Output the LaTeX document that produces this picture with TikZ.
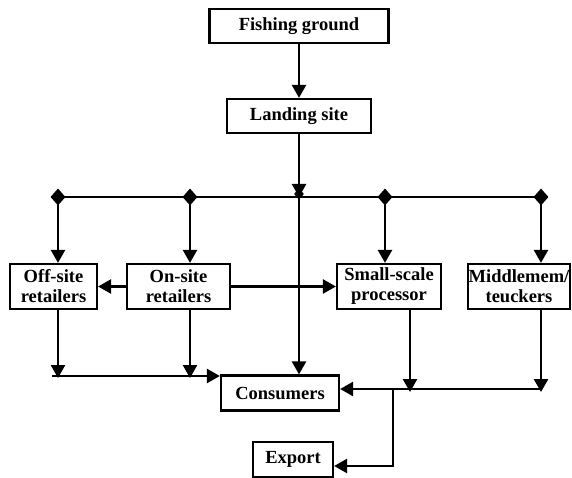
\documentclass[tikz,border=0pt]{standalone}
\usepackage{fontspec}
\setmainfont{Liberation Serif}
\usetikzlibrary{arrows.meta,shapes.geometric}
\begin{document}
\begin{tikzpicture}[x=1pt,y=-1pt,
  box/.style={draw,line width=2.2pt,inner sep=0pt,align=center,
    font=\fontsize{18.5}{20}\selectfont\bfseries},
  con/.style={line width=2.5pt,-{Triangle[length=13pt,width=14pt]}},
  ln/.style={line width=2.5pt},
  dia/.style={diamond,fill=black,inner sep=0pt,minimum width=15pt,minimum height=17pt}]
\useasboundingbox (0,0) rectangle (572,478);
% boxes
\node[box,minimum width=179pt,minimum height=34pt] (fg) at (299,26) {Fishing ground};
\node[box,minimum width=144pt,minimum height=34pt] (ls) at (299,116) {Landing site};
\node[box,minimum width=87pt,minimum height=45pt] (off) at (53.5,286.5) {Off-site\\retailers};
\node[box,minimum width=103pt,minimum height=45pt] (on) at (178.5,286.5) {On-site\\retailers};
\node[box,minimum width=104pt,minimum height=45pt] (ssp) at (389,286.5) {Small-scale\\processor};
\node[box,minimum width=102pt,minimum height=45pt] (mid) at (519,286.5) {Middlemem/\\teuckers};
\node[box,minimum width=118pt,minimum height=35pt] (cons) at (280,393) {Consumers};
\node[box,minimum width=80pt,minimum height=35pt] (exp) at (293,459.5) {Export};
% bus coordinates
\coordinate (j) at (299,197);
\coordinate (d1) at (58,197);
\coordinate (d2) at (190,197);
\coordinate (d3) at (385,197);
\coordinate (d4) at (541,197);
\coordinate (lb0) at (52,376);
\coordinate (lb1) at (58,376);
\coordinate (lb2) at (190,376);
\coordinate (rb1) at (410,389);
\coordinate (rb2) at (541,389);
\coordinate (br) at (393,389);
\coordinate (br2) at (393,466);
% connectors
\draw[con] (fg) -- (ls);
\draw[ln] (d1) -- (d4);
\draw[con] (ls) -- (j);
\draw[con] (d1) -- (d1 |- off.north);
\draw[con] (d2) -- (d2 |- on.north);
\draw[con] (d3) -- (d3 |- ssp.north);
\draw[con] (d4) -- (d4 |- mid.north);
\draw[con] (on.west) -- (off.east);
\draw[con] (on.east) -- (ssp.west);
\draw[con] (j) -- (j |- cons.north);
\draw[con] (lb1 |- off.south) -- ([yshift=-2pt]lb1);
\draw[con] (lb2 |- on.south) -- ([yshift=-2pt]lb2);
\draw[ln,-{Triangle[length=13pt,width=14pt]}] (lb0) -- (cons.north west |- lb0);
\draw[con] (rb1 |- ssp.south) -- ([yshift=-3pt]rb1);
\draw[con] (rb2 |- mid.south) -- ([yshift=-3pt]rb2);
\draw[con] (rb2) -- (cons.east |- rb2);
\draw[con] (br) -- (br2) -- (exp.east |- br2);
% junction marks
\node[dia] at (d1) {};
\node[dia] at (d2) {};
\node[dia] at (d3) {};
\node[dia] at (d4) {};
\node[diamond,fill=black,inner sep=0pt,minimum width=10pt,minimum height=11pt] at ([yshift=3pt]j) {};
\end{tikzpicture}
\end{document}
